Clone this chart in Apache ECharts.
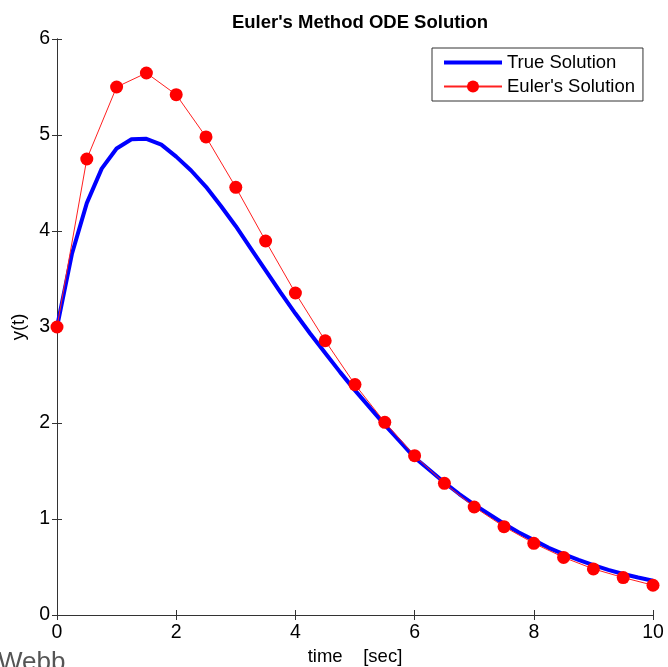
<!DOCTYPE html>
<html>
<head>
<meta charset="utf-8">
<script src="https://cdn.jsdelivr.net/npm/echarts@6/dist/echarts.min.js"></script>
<style>
html,body{margin:0;padding:0;background:#fff;}
#chart{width:668px;height:667px;}
</style>
</head>
<body>
<div id="chart"></div>
<script>
var titleText = "Euler's Method ODE Solution";
var xAxisName = "time    [sec]";
var yAxisName = "y(t)";
var seriesNames = ["True Solution", "Euler's Solution"];

var tTrue = [0,0.25,0.5,0.75,1,1.25,1.5,1.75,2,2.25,2.5,2.75,3,3.25,3.5,3.75,4,4.25,4.5,4.75,5,5.25,5.5,5.75,6,6.25,6.5,6.75,7,7.25,7.5,7.75,8,8.25,8.5,8.75,9,9.25,9.5,9.75,10];
var yTrue = [3.0,3.76,4.29,4.65,4.86,4.955,4.96,4.90,4.775,4.63,4.46,4.26,4.05,3.82,3.59,3.36,3.14,2.93,2.73,2.53,2.34,2.16,1.98,1.81,1.64,1.51,1.38,1.26,1.15,1.05,0.95,0.86,0.78,0.70,0.635,0.575,0.52,0.47,0.427,0.39,0.357];

var tEuler = [0,0.5,1,1.5,2,2.5,3,3.5,4,4.5,5,5.5,6,6.5,7,7.5,8,8.5,9,9.5,10];
var yEuler = [3.0,4.75,5.50,5.646,5.42,4.98,4.455,3.896,3.354,2.857,2.40,2.007,1.66,1.372,1.125,0.92,0.747,0.60,0.48,0.39,0.31];

var xTicks = {min:0, max:10, interval:2};
var yTicks = {min:0, max:6, interval:1};

function pairs(xs, ys){ return xs.map(function(x,i){ return [x, ys[i]]; }); }

var FONT = "'Liberation Sans', Arial, sans-serif";
var axisCol = '#333';

var chart = echarts.init(document.getElementById('chart'), null, {renderer:'canvas'});
chart.setOption({
  backgroundColor:'#ffffff',
  animation:false,
  textStyle:{fontFamily:FONT},
  title:{
    text:titleText, left:355, textAlign:'center', top:8,
    textStyle:{fontFamily:FONT, fontSize:18.5, fontWeight:'bold', color:'#000'}
  },
  grid:{left:57, right:15, top:39, bottom:52, containLabel:false, outerBoundsMode:'none'},
  legend:{
    orient:'vertical', left:432, top:48,
    backgroundColor:'#fff', borderColor:'#333', borderWidth:1,
    padding:[5,8,5,10], itemGap:5, itemWidth:58, itemHeight:15,
    textStyle:{fontFamily:FONT, fontSize:18.5, color:'#000'},
    data:[
      {name:seriesNames[0], itemStyle:{opacity:0, color:'rgba(0,0,0,0)', borderWidth:0}, lineStyle:{width:4, color:'#0000ff'}},
      {name:seriesNames[1]}
    ]
  },
  xAxis:[{
    type:'value', position:'bottom', min:xTicks.min, max:xTicks.max, interval:xTicks.interval,
    name:xAxisName, nameLocation:'middle', nameGap:32,
    nameTextStyle:{fontFamily:FONT, fontSize:18.5, color:'#000'},
    axisLine:{show:true, lineStyle:{color:axisCol, width:1}},
    axisTick:{show:true, inside:true, length:5, lineStyle:{color:axisCol}},
    axisLabel:{show:true, margin:8, fontFamily:FONT, fontSize:19.5, color:'#000'},
    splitLine:{show:false}
  },{
    type:'value', position:'top', min:xTicks.min, max:xTicks.max, interval:xTicks.interval,
    axisLine:{show:true, lineStyle:{color:axisCol, width:1}},
    axisTick:{show:true, inside:true, length:5, lineStyle:{color:axisCol}},
    axisLabel:{show:false}, splitLine:{show:false}
  }],
  yAxis:[{
    type:'value', position:'left', min:yTicks.min, max:yTicks.max, interval:yTicks.interval,
    name:yAxisName, nameLocation:'middle', nameGap:27, nameRotate:90,
    nameTextStyle:{fontFamily:FONT, fontSize:18.5, color:'#000'},
    axisLine:{show:true, lineStyle:{color:axisCol, width:1}},
    axisTick:{show:true, inside:true, length:5, lineStyle:{color:axisCol}},
    axisLabel:{show:true, margin:7, fontFamily:FONT, fontSize:19.5, color:'#000'},
    splitLine:{show:false}
  },{
    type:'value', position:'right', min:yTicks.min, max:yTicks.max, interval:yTicks.interval,
    axisLine:{show:true, lineStyle:{color:axisCol, width:1}},
    axisTick:{show:true, inside:true, length:5, lineStyle:{color:axisCol}},
    axisLabel:{show:false}, splitLine:{show:false}
  }],
  series:[{
    name:seriesNames[0], type:'line', xAxisIndex:0, yAxisIndex:0,
    data:pairs(tTrue, yTrue), symbol:'none', smooth:false,
    lineStyle:{color:'#0000ff', width:4}, itemStyle:{color:'#0000ff'}, z:2
  },{
    name:seriesNames[1], type:'line', xAxisIndex:0, yAxisIndex:0,
    data:pairs(tEuler, yEuler), symbol:'circle', symbolSize:13, showSymbol:true,
    lineStyle:{color:'#ff2020', width:1}, itemStyle:{color:'#ff0000'}, z:3
  }],
  graphic:[{
    type:'text', left:-2, top:650,
    style:{text:'Webb', fontFamily:FONT, fontSize:26, fill:'#555'}
  }]
});
</script>
</body>
</html>
